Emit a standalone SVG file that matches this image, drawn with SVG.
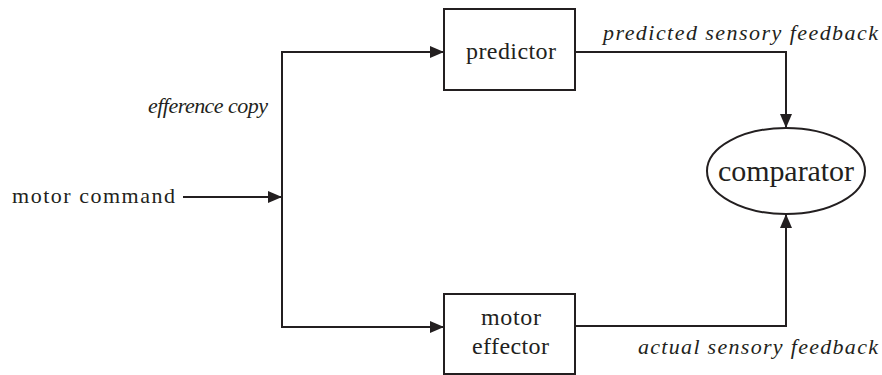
<svg xmlns="http://www.w3.org/2000/svg" width="882" height="375" viewBox="0 0 882 375">
<style>
.box{fill:#fff;stroke:#231f20;stroke-width:2}
.ln{fill:none;stroke:#231f20;stroke-width:2}
text{font-family:'Liberation Serif','Times New Roman',serif;fill:#231f20}
.i{font-style:italic;font-size:22px}
</style>
<defs>
<marker id="ah" markerWidth="14" markerHeight="12" refX="14" refY="6" orient="auto" markerUnits="userSpaceOnUse">
<path d="M0,0 L14,6 L0,12 Z" fill="#231f20"/>
</marker>
</defs>
<g id="connectors">
<path class="ln" d="M183,197 H282" marker-end="url(#ah)"/>
<path class="ln" d="M282,327 V52 H444" marker-end="url(#ah)"/>
<path class="ln" d="M282,200 V327 H444" marker-end="url(#ah)"/>
<path class="ln" d="M575,52 H786 V128" marker-end="url(#ah)"/>
<path class="ln" d="M575,326 H786 V214" marker-end="url(#ah)"/>
<text class="i" x="148" y="113" textLength="120" lengthAdjust="spacing">efference copy</text>
<text class="i" x="603" y="40" textLength="275" lengthAdjust="spacing">predicted sensory feedback</text>
<text class="i" x="638" y="354" textLength="240" lengthAdjust="spacing">actual sensory feedback</text>
</g>
<g id="motor-command">
<text x="12" y="203" font-size="22" textLength="163" lengthAdjust="spacing">motor command</text>
</g>
<g id="predictor">
<rect class="box" x="444" y="9" width="131" height="81"/>
<text x="466" y="59" font-size="24" textLength="90" lengthAdjust="spacing">predictor</text>
</g>
<g id="motor-effector">
<rect class="box" x="444" y="294" width="131" height="80"/>
<text x="481" y="325" font-size="24" textLength="60" lengthAdjust="spacing">motor</text>
<text x="472" y="354" font-size="24" textLength="77" lengthAdjust="spacing">effector</text>
</g>
<g id="comparator">
<ellipse class="box" cx="786" cy="171" rx="79" ry="43"/>
<text x="718" y="181" font-size="30" textLength="136" lengthAdjust="spacing">comparator</text>
</g>
</svg>
